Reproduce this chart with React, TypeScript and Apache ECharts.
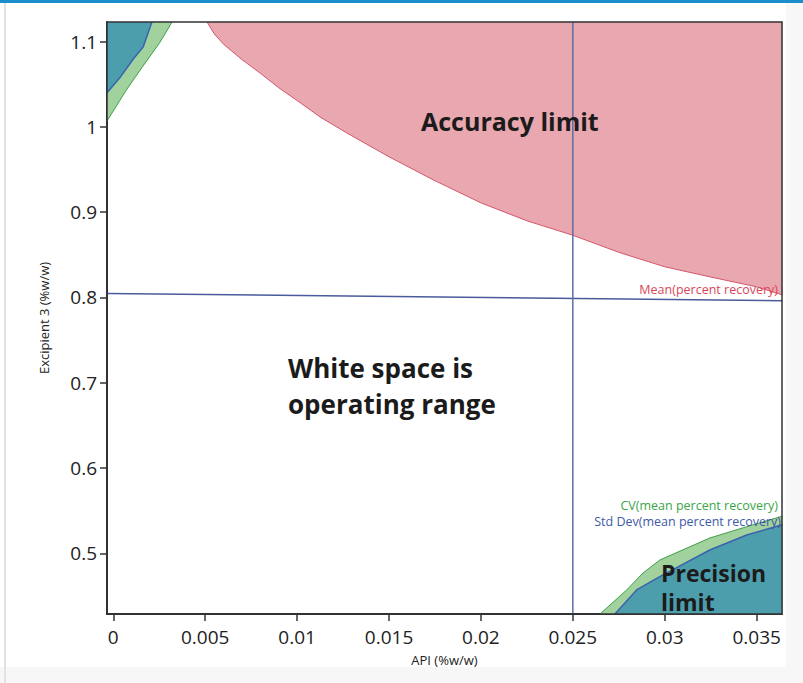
import React, { useEffect, useRef } from "react";
import * as echarts from "echarts";

// Axis ranges / ticks
const xTicks = [0, 0.005, 0.01, 0.015, 0.02, 0.025, 0.03, 0.035];
const yTicks = [0.5, 0.6, 0.7, 0.8, 0.9, 1.0, 1.1];
const xMin = -0.000343;
const xMax = 0.03638;
const yMin = 0.4288;
const yMax = 1.1231;

// Accuracy limit (Mean percent recovery contour), filled above
const accuracyX = [0.0051, 0.0055, 0.006, 0.007, 0.008, 0.009, 0.01, 0.0113, 0.0127, 0.015, 0.0174, 0.02, 0.0225, 0.025, 0.0275, 0.03, 0.0325, 0.035, 0.0364];
const accuracyY = [1.1231, 1.109, 1.097, 1.079, 1.063, 1.046, 1.031, 1.011, 0.993, 0.965, 0.938, 0.911, 0.89, 0.873, 0.853, 0.836, 0.824, 0.8125, 0.803];

// Top-left precision region: CV contour (green) and Std Dev contour (teal), filled above
const tlCvX = [-0.000343, 0.0007, 0.0016, 0.0025, 0.0032];
const tlCvY = [1.007, 1.043, 1.071, 1.098, 1.1231];
const tlSdX = [-0.000343, 0.0004, 0.0011, 0.00163, 0.0021];
const tlSdY = [1.04, 1.059, 1.08, 1.094, 1.1231];

// Bottom-right precision region: filled below
const brCvX = [0.02648, 0.02793, 0.02882, 0.02973, 0.03245, 0.03446, 0.0364];
const brCvY = [0.4288, 0.457, 0.4769, 0.4921, 0.5179, 0.5312, 0.5435];
const brSdX = [0.02729, 0.02847, 0.02973, 0.03245, 0.03446, 0.0364];
const brSdY = [0.4288, 0.457, 0.4726, 0.5039, 0.5215, 0.5335];

// Cross-hair lines
const hLineX = [xMin, 0.0364];
const hLineY = [0.8047, 0.7962];
const vLineX = [0.025, 0.025];
const vLineY = [yMin, yMax];

const zip = (xs: number[], ys: number[]) => xs.map((x, i) => [x, ys[i]]);

const FONT = '"Open Sans", "Noto Sans", sans-serif';
const PINK = "#e9a7b0";
const TEAL = "#4d9ead";
const GREEN = "#a1d29d";

export default function App() {
  const ref = useRef<HTMLDivElement>(null);
  useEffect(() => {
    const chart = echarts.init(ref.current!, null, { renderer: "svg" });
    const fmt = (v: number) => parseFloat(Number(v).toFixed(4)).toString();
    const contour = (xs: number[], ys: number[], line: string, lw: number, fill: string, origin: string, z: number) => ({
      type: "line",
      data: zip(xs, ys),
      showSymbol: false,
      smooth: false,
      lineStyle: { color: line, width: lw },
      areaStyle: { color: fill, opacity: 1, origin },
      z,
    });
    chart.setOption({
      animation: false,
      backgroundColor: "#ffffff",
      grid: {
        left: 107,
        top: 22,
        right: 21,
        bottom: 69,
        show: true,
        borderColor: "#333",
        borderWidth: 1.5,
        backgroundColor: "transparent",
        z: 5,
      },
      xAxis: {
        type: "value",
        min: xMin,
        max: xMax,
        name: "API (%w/w)",
        nameLocation: "middle",
        nameGap: 39,
        nameTextStyle: { fontFamily: FONT, fontSize: 13, color: "#222" },
        axisLine: { show: true, onZero: false, lineStyle: { color: "#333", width: 2 } },
        axisTick: { show: true, customValues: xTicks, length: 7, lineStyle: { color: "#333", width: 1.5 } },
        axisLabel: { customValues: xTicks, formatter: fmt, margin: 13, fontFamily: FONT, fontSize: 19, color: "#222" },
        splitLine: { show: false },
      },
      yAxis: {
        type: "value",
        min: yMin,
        max: yMax,
        name: "Excipient 3 (%w/w)",
        nameLocation: "middle",
        nameGap: 57,
        nameTextStyle: { fontFamily: FONT, fontSize: 13, color: "#222" },
        axisLine: { show: true, onZero: false, lineStyle: { color: "#333", width: 2 } },
        axisTick: { show: true, customValues: yTicks, length: 7, lineStyle: { color: "#333", width: 1.5 } },
        axisLabel: { customValues: yTicks, formatter: fmt, margin: 10, fontFamily: FONT, fontSize: 19, color: "#222" },
        splitLine: { show: false },
      },
      series: [
        contour(tlCvX, tlCvY, "#3c9e48", 1, GREEN, "end", 1),
        contour(tlSdX, tlSdY, "#3b62ad", 1.5, TEAL, "end", 2),
        contour(brCvX, brCvY, "#3c9e48", 1, GREEN, "start", 1),
        contour(brSdX, brSdY, "#3b62ad", 1.5, TEAL, "start", 2),
        contour(accuracyX, accuracyY, "#d4566b", 1, PINK, "end", 2),
        {
          type: "line",
          data: zip(hLineX, hLineY),
          showSymbol: false,
          lineStyle: { color: "#4a5a9c", width: 1.5 },
          z: 3,
        },
        {
          type: "line",
          data: zip(vLineX, vLineY),
          showSymbol: false,
          lineStyle: { color: "#5f6ca6", width: 1.5 },
          z: 3,
        },
      ],
      graphic: [
        { type: "rect", shape: { x: 786, y: 0, width: 17, height: 683 }, style: { fill: "#f7f7f7" }, z: -10, silent: true },
        { type: "rect", shape: { x: 0, y: 667, width: 803, height: 16 }, style: { fill: "#f7f7f7" }, z: -10, silent: true },
        { type: "line", shape: { x1: 5, y1: 3, x2: 5, y2: 683 }, style: { stroke: "#e2e2e2", lineWidth: 2 }, z: -5, silent: true },
        { type: "rect", shape: { x: 0, y: 0, width: 803, height: 3 }, style: { fill: "#1a8dcb" }, z: 100, silent: true },
        {
          type: "text", x: 421, y: 121, z: 100,
          style: { text: "Accuracy limit", fontFamily: FONT, fontSize: 25, fontWeight: "bold", fill: "#1b1b1b", align: "left", verticalAlign: "middle" },
        },
        {
          type: "text", x: 288, y: 350, z: 100,
          style: { text: "White space is\noperating range", fontFamily: FONT, fontSize: 26, fontWeight: "bold", lineHeight: 36, fill: "#1b1b1b", align: "left", verticalAlign: "top" },
        },
        {
          type: "text", x: 661, y: 558, z: 100,
          style: { text: "Precision\nlimit", fontFamily: FONT, fontSize: 23, fontWeight: "bold", lineHeight: 29, fill: "#1b1b1b", align: "left", verticalAlign: "top" },
        },
        {
          type: "text", x: 778, y: 289, z: 100,
          style: { text: "Mean(percent recovery)", fontFamily: FONT, fontSize: 12.5, lineHeight: 13, fill: "#d8475a", align: "right", verticalAlign: "middle" },
        },
        {
          type: "text", x: 778, y: 505, z: 100,
          style: { text: "CV(mean percent recovery)", fontFamily: FONT, fontSize: 12.5, lineHeight: 13, fill: "#3aa548", align: "right", verticalAlign: "middle" },
        },
        {
          type: "text", x: 781, y: 521, z: 100,
          style: { text: "Std Dev(mean percent recovery)", fontFamily: FONT, fontSize: 12.5, lineHeight: 13, fill: "#3d5aa6", align: "right", verticalAlign: "middle" },
        },
      ],
    });
    return () => chart.dispose();
  }, []);
  return (
    <div
      ref={ref}
      style={{ position: "absolute", left: 0, top: 0, width: 803, height: 683 }}
    />
  );
}
